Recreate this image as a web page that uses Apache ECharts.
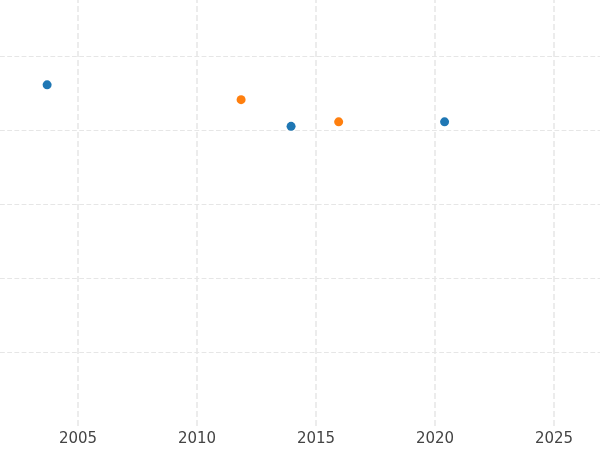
<!DOCTYPE html>
<html><head><meta charset="utf-8">
<script src="https://cdn.jsdelivr.net/npm/echarts@6/dist/echarts.min.js"></script>
<style>html,body{margin:0;padding:0;background:#fff}#c{width:600px;height:450px}</style>
</head><body><div id="c"></div>
<script>
const blueYears = [2003.7, 2013.95, 2020.4];
const blueValues = [4.61, 4.05, 4.11];
const orangeYears = [2011.85, 2015.95];
const orangeValues = [4.41, 4.11];
const xTicks = [2005, 2010, 2015, 2020, 2025];
const yTicks = [1, 2, 3, 4, 5];
const chart = echarts.init(document.getElementById('c'));
const gridLines = xTicks.map(v=>({xAxis:v,lineStyle:{color:'#e6e6e6',width:1.5}}))
  .concat(yTicks.map(v=>({yAxis:v,lineStyle:{color:'#e6e6e6',width:1.2}})));
chart.setOption({
  animation:false,
  grid:{left:0,right:0,top:0,bottom:24,containLabel:false},
  xAxis:{type:'value',min:2001.72,max:2026.93,
    axisLine:{show:false},axisTick:{show:false,customValues:xTicks},
    axisLabel:{customValues:xTicks,formatter:v=>String(Math.round(v)),color:'#444',fontSize:15,fontFamily:'DejaVu Sans',margin:6},
    splitLine:{show:false}},
  yAxis:{type:'value',min:0,max:5.757,
    axisLine:{show:false},axisTick:{show:false},axisLabel:{show:false},
    splitLine:{show:false}},
  series:[
    {type:'scatter',symbolSize:9,itemStyle:{color:'#1f77b4',opacity:1},data:blueYears.map((x,i)=>[x,blueValues[i]]),
     markLine:{silent:true,symbol:'none',label:{show:false},data:gridLines,z:0}, z:3},
    {type:'scatter',symbolSize:9,itemStyle:{color:'#ff7f0e',opacity:1},data:orangeYears.map((x,i)=>[x,orangeValues[i]]),z:3}
  ]
});
</script></body></html>
